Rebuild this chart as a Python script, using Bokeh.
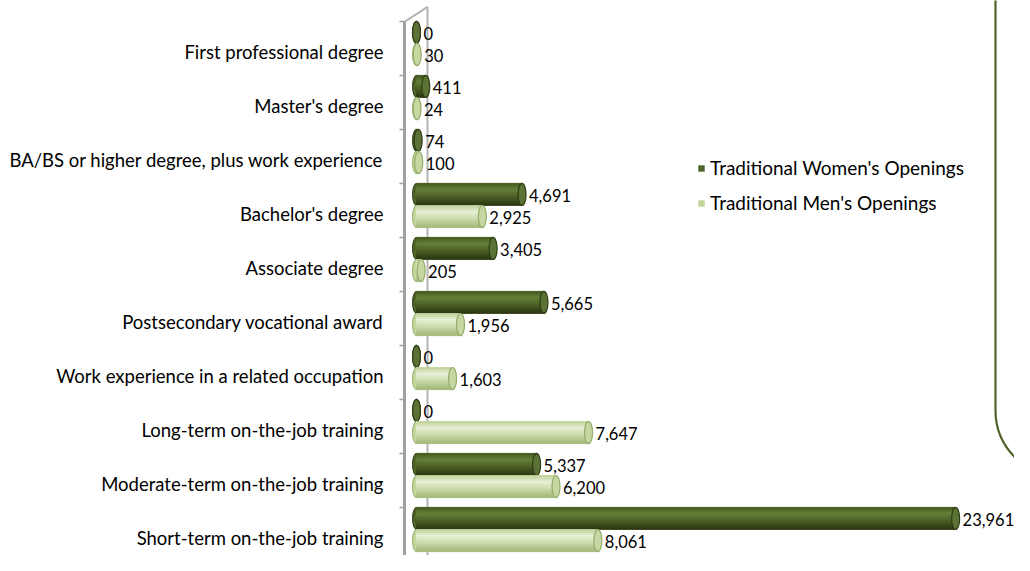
from bokeh.plotting import figure
from bokeh.models import FixedTicker, Legend, LegendItem, BoxAnnotation, Range1d
from bokeh.core.properties import value
from bokeh.embed import file_html
from bokeh.resources import INLINE

# ---------------- data ----------------
categories = [
    "First professional degree",
    "Master's degree",
    "BA/BS or higher degree, plus work experience",
    "Bachelor's degree",
    "Associate degree",
    "Postsecondary vocational award",
    "Work experience in a related occupation",
    "Long-term on-the-job training",
    "Moderate-term on-the-job training",
    "Short-term on-the-job training",
]
women = [0, 411, 74, 4691, 3405, 5665, 0, 0, 5337, 23961]
men = [30, 24, 100, 2925, 205, 1956, 1603, 7647, 6200, 8061]
series_names = ["Traditional Women's Openings", "Traditional Men's Openings"]
series_colors = ["#4F6228", "#C3D69B"]

# ---------------- layout constants ----------------
W, H = 1014, 555
FRAME_LEFT = 404          # px of the axis (front wall) line
ZERO_PX = 12              # px from axis line to value 0
KX = 0.0225               # px per unit along x
KY = 54.0                 # px per category
pair_shift = 0.15         # bars sit slightly above their category label
Y0_PX = 43 + 9 * KY + pair_shift * KY   # px of y = 0 (bottom category label)
FONT = "Lato"

x_start = -ZERO_PX / KX
x_end = x_start + (W - FRAME_LEFT) / KX
y_start = -(H - Y0_PX) / KY
y_end = Y0_PX / KY

n = len(categories)
ys = [n - 1 - i for i in range(n)]
BH = 0.41                 # bar thickness (data units)
dark_y = [y + pair_shift + BH / 2 for y in ys]
light_y = [y + pair_shift - BH / 2 for y in ys]


def hex2rgb(h):
    h = h.lstrip("#")
    return [int(h[i:i + 2], 16) for i in (0, 2, 4)]


def ramp(keys, steps):
    out = []
    for s in range(steps):
        t = (s + 0.5) / steps
        for (t0, c0), (t1, c1) in zip(keys[:-1], keys[1:]):
            if t0 <= t <= t1:
                f = (t - t0) / (t1 - t0)
                a, b = hex2rgb(c0), hex2rgb(c1)
                out.append("#%02x%02x%02x" % tuple(round(a[k] + (b[k] - a[k]) * f) for k in range(3)))
                break
    return out


NS = 12
dark_shades = ramp([(0, "#43561f"), (0.3, "#66803a"), (0.6, "#4f6228"), (1.0, "#2b3711")], NS)
light_shades = ramp([(0, "#bccf92"), (0.3, "#e8f0d8"), (0.6, "#cddcad"), (1.0, "#a2b878")], NS)

p = figure(width=W, height=H, output_backend="svg", toolbar_location=None,
           x_range=Range1d(x_start, x_end), y_range=Range1d(y_start, y_end),
           min_border_left=FRAME_LEFT, min_border_right=0,
           min_border_top=0, min_border_bottom=0)
p.outline_line_color = None
p.grid.visible = False
p.xaxis.visible = False
p.background_fill_color = "white"
p.border_fill_color = "white"

# ---------------- 3D wall (back edge) ----------------
back_x = 23 / KX + x_start
wall_col = "#B4B4B4"
top_front_y = pair_shift + (n - 1) + 0.4
p.line(x=[back_x, back_x], y=[y_start - 1, top_front_y + 15 / KY],
       line_color=wall_col, line_width=2)
p.line(x=[x_start, back_x], y=[top_front_y, top_front_y + 15 / KY],
       line_color=wall_col, line_width=2)
bot_front_y = (Y0_PX - 572) / KY
p.line(x=[x_start, back_x], y=[bot_front_y, bot_front_y + 11 / KY],
       line_color=wall_col, line_width=2)

# ---------------- cylinder bars ----------------
legend_renderers = []


def cylinders(vals, centers, base_color, shades, cap_fill, cap_line):
    p.ellipse(x=[0] * len(vals), y=centers, width=8, height=BH,
              width_units="screen", height_units="data",
              fill_color=base_color, line_color=cap_line, line_width=1)
    base = p.hbar(y=centers, left=0, right=vals, height=BH,
                  fill_color=base_color, line_color=None)
    legend_renderers.append(base)
    ns = len(shades)
    sh = BH / ns
    for j, c in enumerate(shades):
        off = BH / 2 - sh * (j + 0.5)
        p.hbar(y=[c0 + off for c0 in centers], left=0, right=vals,
               height=sh, fill_color=c, line_color=c, line_width=0.7)
    p.ellipse(x=vals, y=centers, width=8, height=BH,
              width_units="screen", height_units="data",
              fill_color=cap_fill, line_color=cap_line, line_width=1.2)


cylinders(women, dark_y, series_colors[0], dark_shades, "#5b7236", "#2f3c14")
cylinders(men, light_y, series_colors[1], light_shades, "#c6d7a2", "#94ab69")

# value labels
for vals, centers in ((women, dark_y), (men, light_y)):
    p.text(x=vals, y=centers, text=[f"{v:,}" for v in vals],
           x_offset=7, y_offset=1, text_baseline="middle", text_align="left",
           text_font=value(FONT), text_font_size="16.5px", text_color="#000000")

# ---------------- y axis ----------------
yax = p.yaxis[0]
yax.ticker = FixedTicker(ticks=ys, minor_ticks=[y + pair_shift + 0.4 for y in ys])
yax.major_label_overrides = {y: categories[i] for i, y in enumerate(ys)}
yax.bounds = (y_start - 1, top_front_y)
yax.axis_line_color = "#A0A0A0"
yax.axis_line_width = 3
yax.major_tick_line_color = None
yax.major_tick_out = 0
yax.major_tick_in = 0
yax.minor_tick_line_color = "#A0A0A0"
yax.minor_tick_line_width = 1.5
yax.minor_tick_out = 5
yax.minor_tick_in = 0
yax.major_label_standoff = 16
yax.major_label_text_font = FONT
yax.major_label_text_font_size = "18.5px"
yax.major_label_text_color = "#000000"

# ---------------- legend ----------------
legend = Legend(items=[LegendItem(label=series_names[i], renderers=[legend_renderers[i]])
                       for i in range(2)],
                location=(293, 341), padding=0, margin=0, spacing=12,
                glyph_width=8, glyph_height=8, label_standoff=5,
                label_text_font=FONT, label_text_font_size="19px",
                label_text_color="#000000", border_line_color=None,
                background_fill_alpha=0)
p.add_layout(legend)

# ---------------- rounded frame box at right ----------------
box = BoxAnnotation(left=(995 - FRAME_LEFT) / KX + x_start, right=x_end + 20000,
                    bottom=(Y0_PX - 476) / KY, top=y_end + 5,
                    fill_alpha=0, line_color="#4F6228", line_alpha=1.0, line_width=2.2,
                    border_radius=66)
p.add_layout(box)

open("out.html", "w").write(file_html(p, INLINE))
